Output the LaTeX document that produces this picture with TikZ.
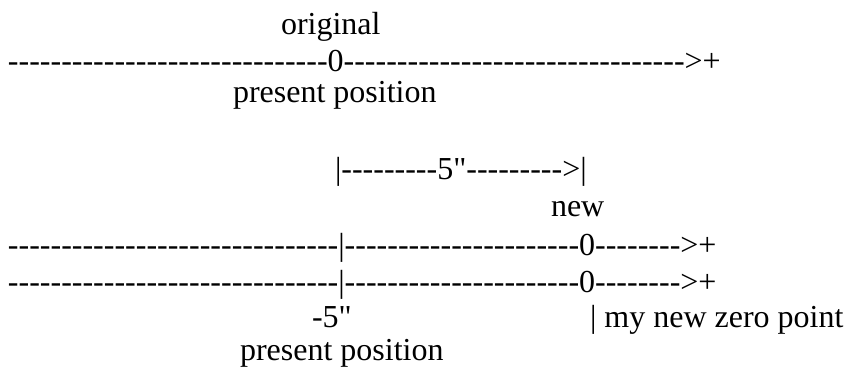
\documentclass[tikz,border=0pt]{standalone}
\usepackage{fontspec}
\newfontfamily\asc{Liberation Serif}[Ligatures=TeXOff]
\begin{document}
\begin{tikzpicture}[x=1pt,y=-1pt,
  txt/.style={anchor=base west,inner sep=0pt,outer sep=0pt,font=\asc\fontsize{32}{38}\selectfont}]
\useasboundingbox (0,0) rectangle (846,371);
\node[txt] (l1) at (281,35) {original};
\node[txt] (l2) at (8,72) {------------------------------0-------------------------------->+};
\node[txt] (l3) at (233,103) {present position};
\node[txt] (l5) at (335,180) {|---------5"--------->|};
\node[txt] (l6) at (551,217) {new};
\node[txt] (l7) at (8,256) {-------------------------------|----------------------0-------->+};
\node[txt] (l8) at (8,293) {-------------------------------|----------------------0-------->+};
\node[txt] (l9a) at (312,327) {-5"};
\node[txt] (l9b) at (590,327) {| my new zero point};
\node[txt] (l10) at (240,360) {present position};
\end{tikzpicture}
\end{document}
